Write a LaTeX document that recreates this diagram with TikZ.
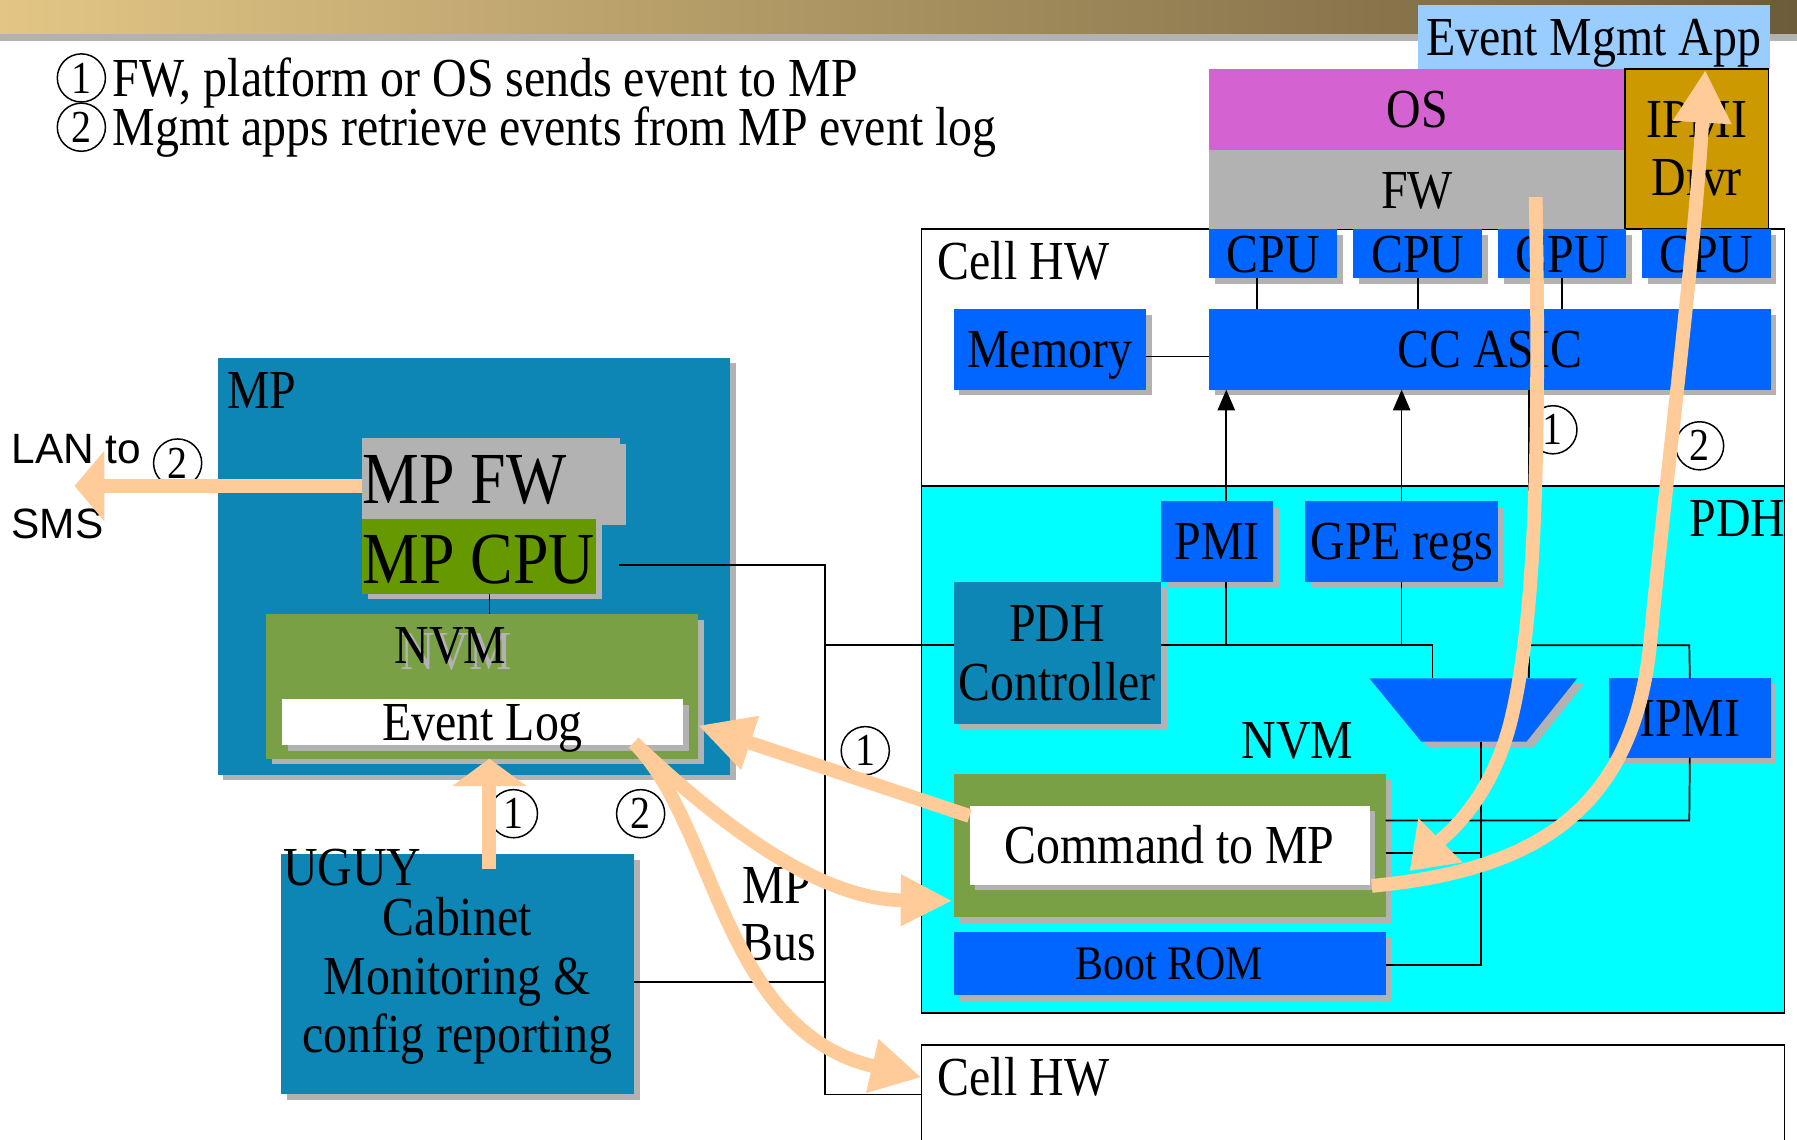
\documentclass[tikz,border=0pt]{standalone}
\usepackage{fontspec}
\setmainfont{Liberation Serif}[FakeStretch=0.87]
\newfontfamily\lansans{Liberation Sans}
\usetikzlibrary{arrows.meta}
\definecolor{mpblue}{HTML}{0D85B5}
\definecolor{hwblue}{HTML}{0066FF}
\definecolor{pdhcyan}{HTML}{00FFFF}
\definecolor{nvmgreen}{HTML}{7AA046}
\definecolor{cpugreen}{HTML}{669900}
\definecolor{sgray}{HTML}{B2B2B2}
\definecolor{osmag}{HTML}{D462D0}
\definecolor{drvgold}{HTML}{CC9900}
\definecolor{appblue}{HTML}{99CCFF}
\definecolor{peach}{HTML}{FFCC99}
\definecolor{barL}{HTML}{E3C686}
\definecolor{barM}{HTML}{BBA270}
\definecolor{barR}{HTML}{6C5C3A}
\newcommand\fntN{\fontsize{48pt}{51pt}\selectfont}
\newcommand\fntB{\fontsize{64pt}{70pt}\selectfont}
\newcommand\fntS{\fontsize{42pt}{46pt}\selectfont}
\newcommand\fntL{\lansans\fontsize{37pt}{40pt}\selectfont}
\newcommand\fntC{\fontsize{40pt}{40pt}\selectfont}
\tikzset{
  blk/.style={rectangle, inner sep=0pt, outer sep=0pt, anchor=north west},
  ctext/.style={font=\fntN, text height=32pt, text depth=0pt},
  shd/.style={preaction={fill=sgray, draw=none, transform canvas={shift={(5pt,-5pt)}}}},
  wire/.style={line width=1.5pt, draw=black},
  brd/.style={draw=black, line width=1.5pt},
  parr/.style={draw=peach, line width=12pt},
  num/.style={circle, draw=black, line width=1.3pt, inner sep=0pt, minimum size=42pt, font=\fntC},
  lbl/.style={inner sep=0pt, font=\fntN},
}
\begin{document}
\begin{tikzpicture}[x=1pt,y=-1pt]
\useasboundingbox (0,0) rectangle (1568,994);
\clip (0,0) rectangle (1568,994);
\fill[white] (0,0) rectangle (1568,994);
\shade[left color=barL, middle color=barM, right color=barR] (0,0) rectangle (1568,30);
\fill[sgray] (0,30) rectangle (1568,36);

% big frames
\node[blk, brd, fill=white, minimum width=753, minimum height=224] (cellhw) at (804,200) {};
\node[blk, brd, fill=pdhcyan, minimum width=753, minimum height=460] (pdh) at (804,424) {};
\node[blk, brd, fill=white, minimum width=753, minimum height=150] (cellhwb) at (804,912) {};

% software stack
\node[blk, ctext, fill=appblue, minimum width=307, minimum height=56] (app) at (1237,4) {Event Mgmt App};
\node[blk, ctext, fill=osmag, minimum width=363, minimum height=71] (os) at (1055,60) {OS};
\node[blk, ctext, fill=sgray, minimum width=363, minimum height=69] (fw) at (1055,131) {FW};
\node[blk, brd, fill=drvgold, minimum width=125, minimum height=140, font=\fntN, align=center] (drvr) at (1418,60) {IPMI\\Drvr};

% cell hardware
\node[blk, ctext, shd, fill=hwblue, minimum width=112, minimum height=43] (cpu1) at (1055,200) {CPU};
\node[blk, ctext, shd, fill=hwblue, minimum width=112, minimum height=43] (cpu2) at (1181,200) {CPU};
\node[blk, ctext, shd, fill=hwblue, minimum width=112, minimum height=43] (cpu3) at (1307,200) {CPU};
\node[blk, ctext, shd, fill=hwblue, minimum width=112, minimum height=43] (cpu4) at (1433,200) {CPU};
\node[blk, ctext, shd, fill=hwblue, minimum width=168, minimum height=70] (memory) at (832,270) {Memory};
\node[blk, ctext, shd, fill=hwblue, minimum width=490, minimum height=70] (ccasic) at (1055,270) {CC ASIC};

% PDH
\node[blk, ctext, shd, fill=hwblue, minimum width=98, minimum height=71] (pmi) at (1013,437) {PMI};
\node[blk, ctext, shd, fill=hwblue, minimum width=168, minimum height=71] (gpe) at (1139,437) {GPE regs};
\node[blk, shd, fill=mpblue, minimum width=181, minimum height=124, font=\fntN, align=center] (pdhctrl) at (832,508) {PDH\\Controller};
\node[blk, ctext, shd, fill=hwblue, minimum width=141, minimum height=69] (ipmi) at (1404,592) {IPMI};
\node[blk, shd, fill=nvmgreen, minimum width=377, minimum height=125] (nvmp) at (832,675) {};
\node[blk, ctext, shd, fill=white, minimum width=349, minimum height=69] (cmd) at (846,703) {Command to MP};
\node[blk, shd, fill=hwblue, minimum width=377, minimum height=55, font=\fntS, text height=28pt, text depth=0pt] (bootrom) at (832,813) {Boot ROM};
\fill[sgray] (1201,597) -- (1382,597) -- (1338,652) -- (1246,652) -- cycle;
\fill[hwblue] (1195,592) -- (1376,592) -- (1332,647) -- (1240,647) -- cycle;
\coordinate (muxL) at (1250,592);
\coordinate (muxR) at (1334,592);
\coordinate (muxB) at (1292,647);

% MP
\node[blk, shd, fill=mpblue, minimum width=447, minimum height=364] (mp) at (190,312) {};
\node[blk, shd, fill=sgray, minimum width=225, minimum height=71] (mpfw) at (316,382) {};
\node[blk, shd, fill=cpugreen, minimum width=204, minimum height=65] (mpcpu) at (316,453) {};
\node[blk, shd, fill=nvmgreen, minimum width=377, minimum height=126] (mpnvm) at (232,536) {};
\node[blk, ctext, shd, fill=white, minimum width=350, minimum height=40] (evlog) at (246,610) {Event Log};
\node[blk, shd, fill=mpblue, minimum width=308, minimum height=210] (cab) at (245,745) {};

% labels
\node[lbl, anchor=base west] (mplbl) at (198,356) {MP};
\node[lbl, anchor=base west, font=\fntB] (mpfwt) at (316,439) {MP FW};
\node[lbl, anchor=base west, font=\fntB] (mpcput) at (316,509) {MP CPU};
\node[lbl, anchor=base, text=sgray] (mpnvms) at (398,584) {NVM};
\node[lbl, anchor=base] (mpnvmt) at (393,579) {NVM};
\node[lbl, anchor=base west] (uguy) at (247,773) {UGUY};
\node[lbl, align=center] (cabt) at (399,856) {Cabinet\\Monitoring \&\\config reporting};
\node[lbl, anchor=base east] (busa) at (708,788) {MP};
\node[lbl, anchor=base east] (busb) at (712,838) {Bus};
\node[lbl, anchor=base west, font=\fntL] (lana) at (10,404) {LAN to};
\node[lbl, anchor=base west, font=\fntL] (lanb) at (10,470) {SMS};
\node[lbl, anchor=base west] (cellt) at (818,244) {Cell HW};
\node[lbl, anchor=base west] (cellbt) at (818,956) {Cell HW};
\node[lbl, anchor=base east] (pdht) at (1558,468) {PDH};
\node[lbl, anchor=base] (nvmt) at (1132,662) {NVM};

% legend
\node[num] (lg1) at (71,68) {1};
\node[num] (lg2) at (71,111) {2};
\node[lbl, anchor=base west] (lgt1) at (98,84) {FW, platform or OS sends event to MP};
\node[lbl, anchor=base west] (lgt2) at (98,127) {Mgmt apps retrieve events from MP event log};

% step numbers
\node[num] (c1a) at (448,710) {1};
\node[num] (c2a) at (559,710) {2};
\node[num] (c1b) at (755,655) {1};
\node[num] (c2l) at (155,404) {2};
\node[num] (c1c) at (1355,375) {1};
\node[num] (c2c) at (1483,389) {2};

% black wiring
\draw[wire] (cpu1.south) ++(-14,0) -- ++(0,27);
\draw[wire] (cpu2.south) -- (cpu2.south |- ccasic.north);
\draw[wire] (cpu3.south) -- (cpu3.south |- ccasic.north);
\draw[wire] (memory.east) ++(0,6) -- ++(55,0);
\draw[wire, -{Triangle[width=15pt,length=18pt]}] (pmi.north) ++(8,0) -- ++(0,-97);
\draw[wire, -{Triangle[width=15pt,length=18pt]}] (gpe.north) -- (gpe.north |- ccasic.south);
\draw[wire] (ccasic.south) ++(34,0) -- (muxR);
\draw[wire] (pmi.south) ++(8,0) -- ++(0,55);
\draw[wire] (gpe.south) -- ++(0,55);
\draw[wire] (1013,563) -- (1250,563) -- (muxL);
\draw[wire] (1334,563) -- (1474,563) -- (ipmi.north);
\draw[wire] (muxB) -- (1292,842) -- (1209,842);
\draw[wire] (1209,716) -- (1474,716) -- (ipmi.south);
\draw[wire] (1209,744) -- (1292,744);
\draw[wire] (540,493) -- (720,493) -- (720,955) -- (804,955);
\draw[wire] (720,563) -- (832,563);
\draw[wire] (553,857) -- (720,857);
\draw[wire] (mpcpu.south) ++(9,0) -- ++(0,18);

% event flow arrows
\coordinate (lanTip) at (65,424);
\coordinate (lanStart) at (316,424);
\coordinate (cabStart) at (427,758);
\coordinate (logBot) at (427,662);
\coordinate (logRight) at (609,633);
\coordinate (cmdLeft) at (846,712);
\coordinate (logOut) at (553,648);
\coordinate (nvmLeft) at (831,786);
\coordinate (cellIn) at (804,940);
\coordinate (fwOut) at (1340,172);
\coordinate (cmdIn) at (1230,760);
\coordinate (cmdOut) at (1197,773);
\coordinate (appIn) at (1488,61);

\draw[parr, -{Triangle[width=60pt,length=26pt]}] (lanStart) -- (lanTip);
\draw[parr, -{Triangle[width=64pt,length=24pt]}] (cabStart) -- (logBot);
\draw[parr, -{Triangle[width=46pt,length=48pt]}] (cmdLeft) -- (logRight);
\draw[parr, -{Triangle[width=42pt,length=45pt]}] (logOut) .. controls (640,730) and (720,785) .. (nvmLeft);
\draw[parr, -{Triangle[width=45pt,length=44pt]}] (logOut) .. controls (625,720) and (630,900) .. (cellIn);
\draw[parr, -{Triangle[width=52pt,length=38pt]}] (fwOut) .. controls (1345,450) and (1335,560) .. (1318,630) .. controls (1300,700) and (1262,728) .. (cmdIn);
\draw[parr, -{Triangle[width=48pt,length=46pt]}] (cmdOut) .. controls (1330,760) and (1425,715) .. (1440,560) .. controls (1452,430) and (1478,230) .. (appIn);
\end{tikzpicture}
\end{document}
